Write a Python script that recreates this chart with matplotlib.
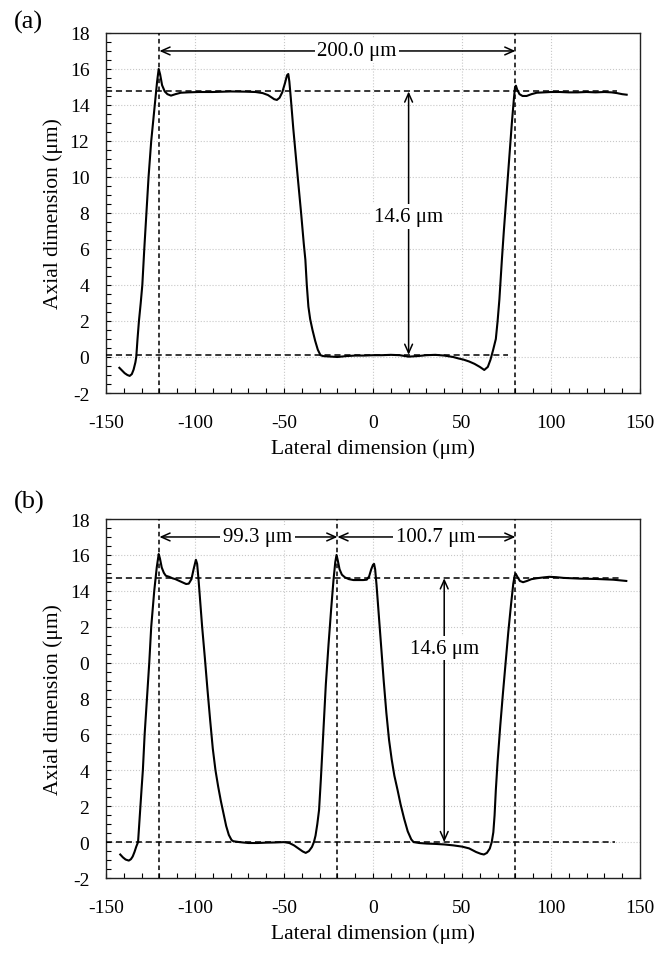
import matplotlib.pyplot as plt
from matplotlib.ticker import MultipleLocator

plt.rcParams['font.family'] = ['Liberation Serif', 'DejaVu Serif']
plt.rcParams['axes.unicode_minus'] = False

# profile (a): one wide trench
xa = [-142.5, -141, -139.5, -138, -136.7, -135.5, -134.5, -133.5, -133, -132.3,
      -131.5, -130.5, -129.6, -128.5, -127.3, -126.1, -124.6, -122.6, -121.3, -120.4,
      -119.6, -118.5, -117, -115.5, -113.5, -111, -108, -104, -98, -90,
      -80, -72, -66, -62, -59, -57, -55.5, -54, -52.5, -51,
      -49.5, -48.3, -47.6, -47, -46.2, -44.8, -43.5, -42.3, -40.4, -38.9,
      -38, -37.2, -36.3, -35.3, -34, -32.5, -31, -29.5, -28, -25,
      -20, -15, -10, -5, 0, 5, 10, 15, 20, 25,
      30, 35, 40, 45, 48, 51, 54, 57, 60, 62.5,
      64.5, 66, 67.5, 69, 70, 71, 72.4, 73.5, 75, 76.5,
      78, 79.2, 79.8, 80.3, 81, 82.3, 84, 86.3, 89, 92,
      96, 100, 105, 110, 115, 120, 125, 130, 134, 137, 140, 142.5]
ya = [-0.6, -0.75, -0.9, -1.0, -1.05, -0.95, -0.7, -0.3, 0.0, 1.0,
      2.0, 3.0, 4.0, 6.0, 8.0, 10.0, 12.0, 14.0, 15.3, 16.0,
      15.7, 15.1, 14.75, 14.6, 14.52, 14.6, 14.68, 14.7, 14.72, 14.72,
      14.75, 14.74, 14.72, 14.66, 14.55, 14.42, 14.32, 14.28, 14.4, 14.7,
      15.2, 15.65, 15.72, 15.3, 14.4, 12.7, 11.3, 10.0, 8.0, 6.3,
      5.4, 4.0, 2.8, 2.1, 1.5, 0.9, 0.4, 0.1, 0.05, 0.03,
      0.0, 0.05, 0.08, 0.08, 0.1, 0.1, 0.12, 0.1, 0.02, 0.05,
      0.1, 0.12, 0.08, 0.0, -0.08, -0.15, -0.25, -0.38, -0.55, -0.72,
      -0.55, -0.15, 0.4, 1.0, 2.0, 3.2, 5.4, 7.0, 9.0, 11.0,
      13.0, 14.4, 15.0, 15.07, 14.85, 14.6, 14.5, 14.5, 14.6, 14.68,
      14.7, 14.72, 14.72, 14.7, 14.7, 14.72, 14.7, 14.72, 14.7, 14.66, 14.6, 14.57]

# profile (b): two narrow trenches
xb = [-142, -140.5, -139, -137.2, -136, -135, -134, -133, -132, -130.7,
      -130, -129.3, -128.3, -127, -125.7, -124.6, -122.9, -121.5, -120.4, -119.7,
      -118.7, -117.5, -116.4, -114.5, -112.7, -111, -109, -107, -105, -103.5,
      -102, -100.8, -99.5, -98.8, -98, -97, -96, -94.5, -93, -91.5,
      -90, -88.5, -87, -85.5, -84, -82.5, -81, -79.5, -78.5, -75,
      -70, -65, -60, -55, -50, -47, -44.4, -41.5, -39.5, -37.8,
      -36, -34.3, -33.2, -32.3, -31.3, -30.3, -29.3, -28, -26.5, -25,
      -23.5, -22.2, -21.2, -20.5, -19.8, -18.8, -17.5, -15.8, -13.5, -11,
      -8, -5.5, -3.5, -2.2, -1, 0, 0.6, 1.2, 2, 3,
      4.5, 6, 7.5, 9, 10.5, 12, 13.8, 15.5, 17.5, 19.5,
      21.5, 22.8, 26, 30, 35, 40, 45, 50, 54, 57.9,
      60.5, 62.3, 64, 65.6, 66.7, 67.6, 68.3, 69, 70, 71.5,
      73, 74.5, 76, 77.5, 78.8, 79.6, 80.2, 81, 82.5, 84.3,
      86.5, 89, 92, 96, 99, 103, 107, 111, 116, 121,
      125.5, 130, 135, 139, 142.3]
yb = [-0.69, -0.85, -0.97, -1.03, -0.95, -0.8, -0.55, -0.25, 0.0, 2.0,
      3.0, 4.0, 6.0, 8.0, 10.0, 12.0, 14.0, 15.3, 16.05, 15.8,
      15.3, 15.0, 14.84, 14.78, 14.7, 14.65, 14.56, 14.47, 14.38, 14.4,
      14.65, 15.2, 15.73, 15.5, 14.6, 13.3, 12.0, 10.3, 8.5, 6.8,
      5.2, 4.0, 3.1, 2.3, 1.6, 0.9, 0.4, 0.12, 0.05, 0.0,
      -0.05, -0.05, -0.03, -0.02, 0.0, -0.05, -0.18, -0.38, -0.52, -0.6,
      -0.5, -0.27, 0.0, 0.36, 1.0, 1.8, 3.5, 6.0, 8.8, 11.0,
      13.0, 14.6, 15.6, 16.0, 15.7, 15.2, 14.9, 14.75, 14.65, 14.6,
      14.6, 14.6, 14.62, 14.8, 15.2, 15.45, 15.5, 15.2, 14.3, 13.0,
      11.0, 9.0, 7.2, 5.7, 4.6, 3.7, 2.9, 2.1, 1.3, 0.6,
      0.15, 0.0, -0.05, -0.08, -0.1, -0.13, -0.18, -0.25, -0.35, -0.55,
      -0.65, -0.69, -0.6, -0.36, 0.0, 0.55, 1.5, 2.9, 4.5, 6.5,
      8.3, 10.0, 11.7, 13.2, 14.4, 14.85, 14.95, 14.8, 14.55, 14.48,
      14.55, 14.65, 14.7, 14.75, 14.78, 14.76, 14.72, 14.7, 14.68, 14.67,
      14.66, 14.64, 14.62, 14.58, 14.55]

yticks = [-2, 0, 2, 4, 6, 8, 10, 12, 14, 16, 18]
ylabels_a = ['-2', '0', '2', '4', '6', '8', '10', '12', '14', '16', '18']
ylabels_b = ['-2', '0', '2', '4', '6', '8', '0', '2', '14', '16', '18']

# marker lines: edges, top / bottom levels
edges_a = [-120, 80]
edges_b = [-120, -20, 80]
top_a, base_a = 14.75, 0.12
top_b, base_b = 14.7, 0.0
top_end_a, base_end_a = 137, 76
top_end_b, base_end_b = 140, 136

# measured widths: (from, to, text, text centre)
widths_a = [(-120, 80, '200.0 μm', -9)]
widths_b = [(-120, -20, '99.3 μm', -65), (-20, 80, '100.7 μm', 35)]
depth_text = '14.6 μm'
depth_x_a, depth_y_a = 20, 7.8
depth_x_b, depth_y_b = 40, 10.8


def panel(ax, x, y, edges, top, base, top_end, base_end, widths, dx, dy, ylabels):
    ax.plot(x, y, color='black', lw=1.5, zorder=5, solid_joinstyle='round')
    for e in edges:
        ax.axvline(e, color='black', lw=1.1, ls=(0, (3, 2.2)), zorder=3)
    ax.plot([-150, top_end], [top, top], color='black', lw=1.1, ls=(0, (4, 2.5)), zorder=3)
    ax.plot([-150, base_end], [base, base], color='black', lw=1.1, ls=(0, (4, 2.5)), zorder=3)

    arr = dict(arrowstyle='<->,head_length=0.45,head_width=0.2', color='black', lw=1.1,
               shrinkA=0, shrinkB=0, mutation_scale=14)
    for x0, x1, txt, xc in widths:
        ax.annotate('', xy=(x0, 17), xytext=(x1, 17), arrowprops=arr, zorder=6)
        ax.text(xc, 17, txt, ha='center', va='center', fontsize=15, zorder=7,
                bbox=dict(facecolor='white', edgecolor='none', pad=2))
    ax.annotate('', xy=(dx, base), xytext=(dx, top), arrowprops=arr, zorder=6)
    ax.text(dx, dy, depth_text, ha='center', va='center', fontsize=15, zorder=7,
            bbox=dict(facecolor='white', edgecolor='none', pad=2))

    ax.set_xlim(-150, 150)
    ax.set_ylim(-2, 18)
    ax.xaxis.set_major_locator(MultipleLocator(50))
    ax.xaxis.set_minor_locator(MultipleLocator(10))
    ax.set_yticks(yticks)
    ax.set_yticklabels(ylabels)
    ax.yaxis.set_minor_locator(MultipleLocator(0.5))
    ax.tick_params(which='both', direction='in', length=3.5, width=0.8,
                   top=False, right=False, labelsize=14)
    ax.tick_params(axis='x', pad=15)
    ax.tick_params(axis='y', pad=12)
    ax.grid(True, which='major', color='#c8c8c8', ls=':', lw=0.8)
    ax.set_axisbelow(True)
    for s in ax.spines.values():
        s.set_linewidth(1.0)
        s.set_color('#222222')
    ax.set_xlabel('Lateral dimension (μm)', fontsize=15.5, labelpad=5)
    ax.set_ylabel('Axial dimension (μm)', fontsize=15.5, labelpad=5)


fig = plt.figure(figsize=(6.68, 9.54), dpi=100)
ax1 = fig.add_axes([0.1587, 0.587, 0.7994, 0.3774])
ax2 = fig.add_axes([0.1587, 0.0786, 0.7994, 0.3763])

panel(ax1, xa, ya, edges_a, top_a, base_a, top_end_a, base_end_a, widths_a,
      depth_x_a, depth_y_a, ylabels_a)
panel(ax2, xb, yb, edges_b, top_b, base_b, top_end_b, base_end_b, widths_b,
      depth_x_b, depth_y_b, ylabels_b)

fig.text(0.042, 0.976, '(a)', fontsize=19, ha='center', va='center')
fig.text(0.044, 0.473, '(b)', fontsize=19, ha='center', va='center')

fig.savefig('out.png', dpi=100)
